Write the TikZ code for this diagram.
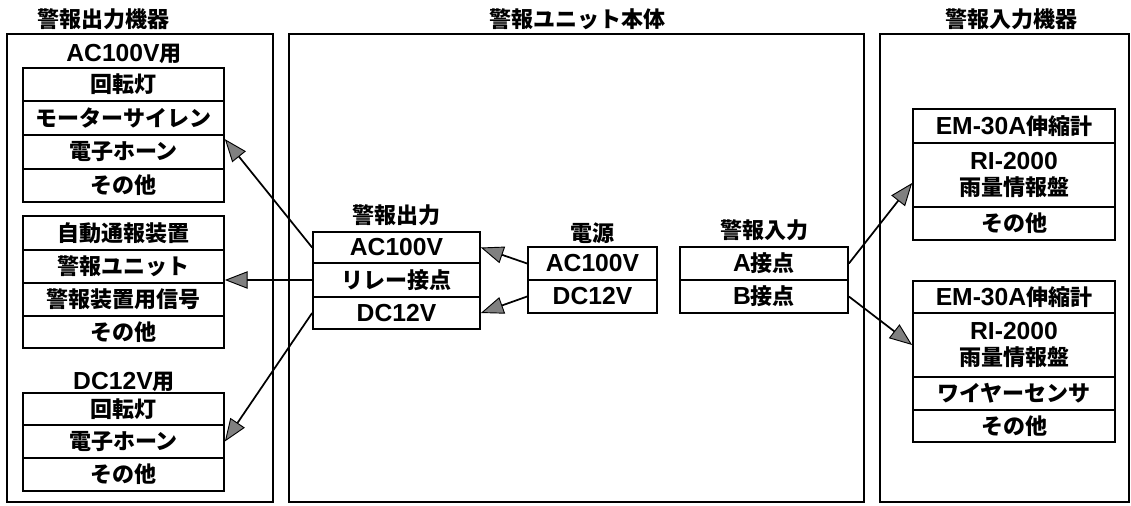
\documentclass[tikz,border=0pt]{standalone}
\usepackage{fontspec}
\setmainfont{Noto Sans CJK JP}
\newfontfamily\latfont{Liberation Sans}
\usetikzlibrary{arrows.meta}
\newcommand\fs{\fontsize{16.5pt}{20pt}\selectfont\bfseries}
\newcommand\la[1]{{\latfont\fontsize{18.5pt}{20pt}\selectfont\bfseries #1}}
\newcommand\cellbox[6]{\node[cell, minimum width={(#4-#2)*0.75pt}, minimum height={(#5-#3)*0.75pt}] (#1) at ({(#2+#4)/2},{(#3+#5)/2}) {#6};}
\newcommand\frbox[5]{\node[frm, minimum width={(#4-#2)*0.75pt}, minimum height={(#5-#3)*0.75pt}] (#1) at ({(#2+#4)/2},{(#3+#5)/2}) {};}
\begin{document}
\begin{tikzpicture}[x=0.75pt,y=-0.75pt,
  frm/.style={draw, rectangle, inner sep=0pt, line width=1.3pt},
  cell/.style={draw, rectangle, inner sep=0pt, line width=1.3pt, font=\fs, align=center},
  lbl/.style={font=\fs, inner sep=0pt},
  arr/.style={line width=1.3pt, -{Triangle[length=17pt,width=13pt,fill=gray,line width=0.7pt]}}]
\useasboundingbox (0,0) rectangle (1131,506);
% frames
\frbox{fL}{7}{34}{273}{502}
\frbox{fM}{289}{34}{864}{502}
\frbox{fR}{880}{34}{1129}{502}
\node[lbl] (t1) at (103,19) {警報出力機器};
\node[lbl] (t2) at (577,19) {警報ユニット本体};
\node[lbl] (t3) at (1011,19) {警報入力機器};
% left
\node[lbl] (hAC) at (124,54) {\la{AC100V}用};
\cellbox{a1}{23}{68}{224}{101}{回転灯}
\cellbox{a2}{23}{101}{224}{135}{モーターサイレン}
\cellbox{a3}{23}{135}{224}{169}{電子ホーン}
\cellbox{a4}{23}{169}{224}{202}{その他}
\cellbox{b1}{23}{216}{224}{250}{自動通報装置}
\cellbox{b2}{23}{250}{224}{283}{警報ユニット}
\cellbox{b3}{23}{283}{224}{316}{警報装置用信号}
\cellbox{b4}{23}{316}{224}{348}{その他}
\node[lbl] (hDC) at (124,382) {\la{DC12V}用};
\cellbox{c1}{23}{393}{224}{425}{回転灯}
\cellbox{c2}{23}{425}{224}{458}{電子ホーン}
\cellbox{c3}{23}{458}{224}{491}{その他}
% middle
\node[lbl] (oT) at (396,215) {警報出力};
\cellbox{o1}{313}{232}{480}{263}{\la{AC100V}}
\cellbox{o2}{313}{263}{480}{297}{リレー接点}
\cellbox{o3}{313}{297}{480}{329}{\la{DC12V}}
\node[lbl] (pT) at (592,233) {電源};
\cellbox{p1}{528}{247}{657}{280}{\la{AC100V}}
\cellbox{p2}{528}{280}{657}{313}{\la{DC12V}}
\node[lbl] (iT) at (764,230) {警報入力};
\cellbox{i1}{680}{247}{848}{280}{\la{A}接点}
\cellbox{i2}{680}{280}{848}{313}{\la{B}接点}
% right
\cellbox{r1}{913}{109}{1115}{143}{\la{EM-30A}伸縮計}
\cellbox{r2}{913}{143}{1115}{207}{\la{RI-2000}\\雨量情報盤}
\cellbox{r3}{913}{207}{1115}{240}{その他}
\cellbox{s1}{913}{281}{1115}{313}{\la{EM-30A}伸縮計}
\cellbox{s2}{913}{313}{1115}{377}{\la{RI-2000}\\雨量情報盤}
\cellbox{s3}{913}{377}{1115}{410}{ワイヤーセンサ}
\cellbox{s4}{913}{410}{1115}{442}{その他}
% arrows
\draw[arr] (o1.west) -- ([yshift=-3.75pt]a3.north east);
\draw[arr] (o2.west) -- (o2.west -| b3.east);
\draw[arr] (o3.west) -- (c2.east);
\draw[arr] (p1.west) -- (o1.east);
\draw[arr] (p2.west) -- (o3.east);
\draw[arr] (i1.east) -- ([yshift=-6pt]r2.west);
\draw[arr] (i2.east) -- (s2.west);
\end{tikzpicture}
\end{document}
